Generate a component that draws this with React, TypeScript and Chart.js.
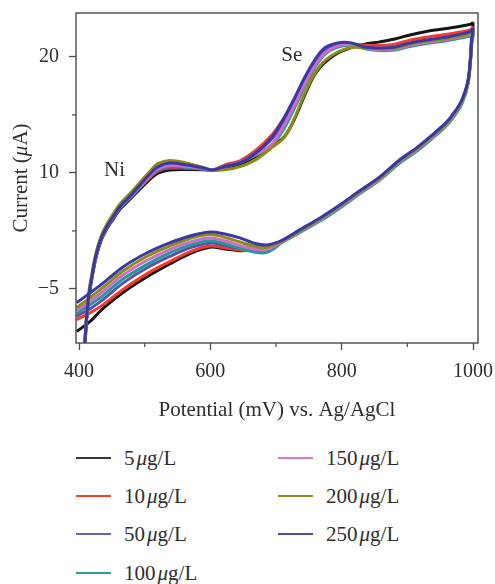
import React, { useEffect, useRef } from 'react';
import { Chart, registerables } from 'chart.js';

Chart.register(...registerables);

// Potential (mV) sampled along the forward scan, then along the reverse scan
const potentialsForward = [408, 409, 414, 420, 426, 434, 443, 452, 462, 478, 493, 508, 520, 538, 564, 589, 604, 625, 645, 668, 694, 713, 729, 744, 759, 774, 794, 815, 835, 858, 881, 904, 929, 960, 995, 1000];
const potentialsReverse = [998, 996, 992, 983, 972, 960, 938, 914, 888, 858, 827, 797, 767, 736, 710, 686, 665, 645, 622, 599, 569, 538, 503, 467, 437, 417, 398];

// Currents (µA) per concentration — forward branch
const cur5Forward = [-7.3, -4.85, -1.15, 1.0, 2.75, 4.22, 5.25, 6.02, 6.85, 7.75, 8.62, 9.45, 9.98, 10.26, 10.3, 10.28, 10.24, 10.5, 10.75, 11.4, 12.3, 13.15, 14.75, 16.75, 18.5, 19.5, 20.35, 20.8, 21.1, 21.3, 21.55, 21.9, 22.2, 22.45, 22.8, 22.9];
const cur10Forward = [-7.25, -4.75, -1.05, 1.1, 2.82, 4.3, 5.33, 6.1, 6.95, 7.86, 8.75, 9.6, 10.15, 10.42, 10.4, 10.35, 10.28, 10.75, 11.05, 11.9, 13.3, 14.8, 16.25, 17.85, 19.35, 20.5, 21.0, 21.1, 21.0, 21.0, 21.1, 21.45, 21.7, 21.95, 22.3, 22.5];
const cur50Forward = [-7.2, -4.7, -1.0, 1.15, 2.87, 4.35, 5.38, 6.16, 7.0, 7.93, 8.82, 9.7, 10.25, 10.52, 10.45, 10.33, 10.24, 10.62, 10.92, 11.7, 12.95, 14.6, 16.25, 17.95, 19.45, 20.55, 21.1, 21.15, 20.8, 20.7, 20.78, 21.1, 21.35, 21.6, 22.05, 22.1];
const cur100Forward = [-7.2, -4.7, -1.0, 1.15, 2.85, 4.33, 5.36, 6.14, 6.98, 7.9, 8.8, 9.68, 10.28, 10.58, 10.5, 10.35, 10.24, 10.6, 10.9, 11.5, 12.4, 13.9, 15.7, 17.5, 19.05, 20.2, 20.85, 21.0, 20.7, 20.55, 20.6, 20.9, 21.15, 21.4, 21.8, 21.95];
const cur150Forward = [-7.15, -4.65, -0.95, 1.2, 2.9, 4.38, 5.4, 6.18, 7.03, 7.95, 8.85, 9.75, 10.35, 10.66, 10.55, 10.38, 10.25, 10.6, 10.9, 11.55, 12.5, 14.2, 15.95, 17.7, 19.2, 20.3, 20.95, 21.05, 20.75, 20.62, 20.68, 21.0, 21.25, 21.5, 21.9, 22.1];
const cur200Forward = [-7.0, -4.45, -0.7, 1.45, 3.15, 4.6, 5.65, 6.45, 7.3, 8.25, 9.2, 10.15, 10.8, 11.08, 10.85, 10.48, 10.22, 10.3, 10.55, 11.1, 12.21, 13.1, 14.83, 16.9, 18.58, 19.66, 20.43, 20.82, 20.8, 20.7, 20.78, 21.1, 21.35, 21.6, 22.0, 22.2];
const cur250Forward = [-7.16, -4.66, -0.95, 1.21, 2.93, 4.4, 5.43, 6.21, 7.07, 8.02, 8.97, 9.91, 10.52, 10.86, 10.69, 10.43, 10.26, 10.6, 10.86, 11.64, 13.1, 14.83, 16.55, 18.28, 19.74, 20.78, 21.21, 21.21, 20.86, 20.78, 20.86, 21.21, 21.47, 21.72, 22.16, 22.41];

// Currents (µA) per concentration — reverse branch
const cur5Reverse = [21.9, 19.8, 17.72, 16.14, 15.11, 14.25, 13.13, 12.01, 10.97, 9.51, 8.3, 7.09, 5.97, 4.95, 4.1, 3.45, 3.35, 3.3, 3.45, 3.6, 3.05, 2.15, 1.03, -0.3, -1.65, -2.8, -3.6];
const cur10Reverse = [21.6, 19.7, 17.74, 16.19, 15.16, 14.3, 13.18, 12.06, 11.02, 9.56, 8.35, 7.14, 6.02, 5.0, 4.15, 3.4, 3.3, 3.35, 3.55, 3.7, 3.2, 2.35, 1.3, -0.05, -1.35, -2.05, -2.6];
const cur50Reverse = [21.35, 19.65, 17.78, 16.22, 15.2, 14.35, 13.22, 12.1, 11.06, 9.6, 8.4, 7.18, 6.07, 5.05, 4.18, 3.5, 3.45, 3.5, 3.75, 3.95, 3.55, 2.8, 1.8, 0.5, -0.9, -1.7, -2.3];
const cur100Reverse = [21.1, 19.45, 17.5, 15.95, 14.95, 14.1, 12.98, 11.86, 10.83, 9.38, 8.18, 6.96, 5.85, 4.85, 4.02, 3.15, 3.2, 3.5, 3.9, 4.15, 3.8, 3.1, 2.1, 0.85, -0.55, -1.35, -2.07];
const cur150Reverse = [21.2, 19.55, 17.65, 16.1, 15.07, 14.2, 13.08, 11.97, 10.95, 9.48, 8.28, 7.06, 5.95, 4.94, 4.1, 3.4, 3.45, 3.75, 4.15, 4.4, 4.05, 3.4, 2.45, 1.2, -0.2, -1.05, -1.81];
const cur200Reverse = [21.3, 19.6, 17.7, 16.15, 15.15, 14.3, 13.18, 12.06, 11.02, 9.56, 8.35, 7.14, 6.02, 5.0, 4.15, 3.6, 3.7, 4.05, 4.45, 4.7, 4.35, 3.7, 2.8, 1.55, 0.15, -0.75, -1.55];
const cur250Reverse = [21.47, 19.74, 17.84, 16.29, 15.26, 14.4, 13.28, 12.16, 11.12, 9.66, 8.45, 7.24, 6.12, 5.09, 4.22, 3.79, 3.97, 4.4, 4.74, 4.91, 4.57, 3.97, 3.1, 1.9, 0.52, -0.34, -1.12];

const concentrations = ['5', '10', '50', '100', '150', '200', '250'];
const seriesColors = ['#151515', '#f53a2c', '#5b52a8', '#1c9c98', '#d46ac8', '#8c8c12', '#3838a6'];
const legendColors = ['#3a3a3a', '#f0402e', '#6a62aa', '#2a9d98', '#d978c8', '#8a8a1a', '#4c4ca0'];

const xMajorTicks = [400, 600, 800, 1000];
const xMinorTicks = [500, 700, 900];
const yMajorTicks = [0, 10, 20];
const yTickLabels = ['\u22125', '10', '20'];
const yMinorTicks = [5, 15];

const peakLabels = ['Ni', 'Se'];
const peakLabelX = [454, 724];
const peakLabelY = [10.17, 20.17];

const xTitle = 'Potential (mV) vs. Ag/AgCl';

const SERIF = '"Liberation Serif", "Times New Roman", serif';
const TEXT = '#2e2e2e';
const AXIS = '#4a4a4a';

const forwardSets = [cur5Forward, cur10Forward, cur50Forward, cur100Forward, cur150Forward, cur200Forward, cur250Forward];
const reverseSets = [cur5Reverse, cur10Reverse, cur50Reverse, cur100Reverse, cur150Reverse, cur200Reverse, cur250Reverse];

const zeroPadding = (s: any) => {
  s.paddingTop = 0;
  s.paddingBottom = 0;
  s.paddingLeft = 0;
  s.paddingRight = 0;
};

const decorPlugin = {
  id: 'decor',
  afterDraw(chart: any) {
    const ctx = chart.ctx;
    const { left, top, right, bottom } = chart.chartArea;
    const xs = chart.scales.x;
    const ys = chart.scales.y;
    ctx.save();
    // frame
    ctx.strokeStyle = AXIS;
    ctx.lineWidth = 1.4;
    ctx.strokeRect(left, top, right - left, bottom - top);
    // minor ticks
    ctx.lineWidth = 1.2;
    ctx.beginPath();
    xMinorTicks.forEach((v) => {
      const p = xs.getPixelForValue(v);
      ctx.moveTo(p, bottom);
      ctx.lineTo(p, bottom + 4);
    });
    yMinorTicks.forEach((v) => {
      const p = ys.getPixelForValue(v);
      ctx.moveTo(left, p);
      ctx.lineTo(left - 4, p);
    });
    ctx.stroke();

    // peak annotations
    ctx.fillStyle = TEXT;
    ctx.font = `21px ${SERIF}`;
    ctx.textAlign = 'center';
    ctx.textBaseline = 'middle';
    peakLabels.forEach((t, i) => {
      ctx.fillText(t, xs.getPixelForValue(peakLabelX[i]), ys.getPixelForValue(peakLabelY[i]));
    });

    // x title
    ctx.font = `21px ${SERIF}`;
    ctx.fillText(xTitle, (left + right) / 2, 410);

    // y title with italic mu
    const parts = [
      { t: 'Current (', it: false },
      { t: '\u03bc', it: true },
      { t: 'A)', it: false },
    ];
    const fonts = parts.map((p) => `${p.it ? 'italic ' : ''}21px ${SERIF}`);
    let total = 0;
    const widths = parts.map((p, i) => {
      ctx.font = fonts[i];
      const w = ctx.measureText(p.t).width;
      total += w;
      return w;
    });
    ctx.translate(21, (top + bottom) / 2);
    ctx.rotate(-Math.PI / 2);
    ctx.textAlign = 'left';
    let cx = -total / 2;
    parts.forEach((p, i) => {
      ctx.font = fonts[i];
      ctx.fillText(p.t, cx, 0);
      cx += widths[i];
    });
    ctx.restore();
  },
};

function LegendItem({ idx, left, top }: { idx: number; left: number; top: number }) {
  return (
    <div style={{ position: 'absolute', left, top: top - 13, height: 26, width: 200 }}>
      <div
        style={{
          position: 'absolute',
          left: 0,
          top: 12,
          width: 35,
          height: 2,
          background: legendColors[idx],
        }}
      />
      <div
        style={{
          position: 'absolute',
          left: 48,
          top: 0,
          height: 26,
          lineHeight: '26px',
          fontFamily: SERIF,
          fontSize: 21,
          color: TEXT,
          whiteSpace: 'nowrap',
        }}
      >
        {concentrations[idx]}
        <i style={{ marginLeft: 2 }}>{'\u03bc'}</i>g/L
      </div>
    </div>
  );
}

export default function App() {
  const ref = useRef<HTMLCanvasElement | null>(null);

  useEffect(() => {
    if (!ref.current) return;
    const potentials = [...potentialsForward, ...potentialsReverse];
    const datasets = concentrations.map((c, i) => {
      const ys = [...forwardSets[i], ...reverseSets[i]];
      return {
        label: `${c} µg/L`,
        data: ys.map((y, k) => ({ x: potentials[k], y })),
        borderColor: seriesColors[i],
        backgroundColor: seriesColors[i],
        borderWidth: 3,
        pointRadius: 0,
        showLine: true,
        tension: 0.35,
        borderJoinStyle: 'round' as const,
        borderCapStyle: 'round' as const,
        order: concentrations.length - 1 - i,
      };
    });

    const chart = new Chart(ref.current, {
      type: 'scatter',
      data: { datasets },
      options: {
        responsive: false,
        maintainAspectRatio: false,
        devicePixelRatio: 1,
        animation: false,
        layout: { padding: { left: 0, top: 13, right: 17, bottom: 0 } },
        plugins: { legend: { display: false }, tooltip: { enabled: false } },
        scales: {
          x: {
            type: 'linear',
            min: 395.4,
            max: 1007.6,
            afterBuildTicks: (s: any) => {
              s.ticks = xMajorTicks.map((v) => ({ value: v }));
            },
            afterFit: (s: any) => {
              s.height = 87;
              zeroPadding(s);
            },
            grid: {
              display: true,
              drawOnChartArea: false,
              drawTicks: true,
              tickLength: 7,
              tickColor: AXIS,
              tickWidth: 1.3,
            },
            border: { display: false },
            ticks: {
              autoSkip: false,
              maxRotation: 0,
              padding: 10,
              color: TEXT,
              font: { family: SERIF, size: 20 },
              callback: (v: any) => String(v),
            },
          },
          y: {
            type: 'linear',
            min: -4.66,
            max: 23.79,
            afterBuildTicks: (s: any) => {
              s.ticks = yMajorTicks.map((v) => ({ value: v }));
            },
            afterFit: (s: any) => {
              s.width = 76;
              zeroPadding(s);
            },
            grid: {
              display: true,
              drawOnChartArea: false,
              drawTicks: true,
              tickLength: 7,
              tickColor: AXIS,
              tickWidth: 1.3,
            },
            border: { display: false },
            ticks: {
              padding: 10,
              color: TEXT,
              font: { family: SERIF, size: 20 },
              callback: (v: any) => {
                const i = yMajorTicks.indexOf(Number(v));
                return i >= 0 ? yTickLabels[i] : '';
              },
            },
          },
        },
      },
      plugins: [decorPlugin],
    });
    return () => chart.destroy();
  }, []);

  const col1 = [0, 1, 2, 3];
  const col2 = [4, 5, 6];
  const rowY = [458, 496, 534, 573];

  return (
    <div style={{ position: 'absolute', left: 0, top: 0, width: 495, height: 584, background: '#fff' }}>
      <canvas ref={ref} width={495} height={430} style={{ position: 'absolute', left: 0, top: 0, width: 495, height: 430 }} />
      {col1.map((idx, r) => (
        <LegendItem key={idx} idx={idx} left={76} top={rowY[r]} />
      ))}
      {col2.map((idx, r) => (
        <LegendItem key={idx} idx={idx} left={278} top={rowY[r]} />
      ))}
    </div>
  );
}
